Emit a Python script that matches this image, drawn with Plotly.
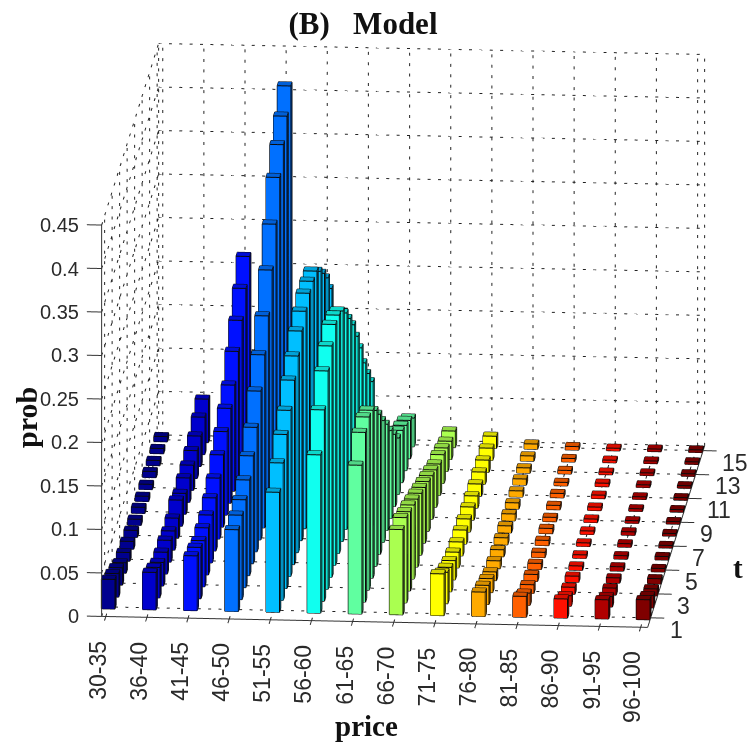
import math
import plotly.graph_objects as go

title_text = "(B)\u00a0\u00a0\u00a0Model"
price_labels = ["30-35","36-40","41-45","46-50","51-55","56-60","61-65","66-70","71-75","76-80","81-85","86-90","91-95","96-100"]
t_values = list(range(1, 16))
t_tick_values = [1, 3, 5, 7, 9, 11, 13, 15]
z_ticks = [0, 0.05, 0.1, 0.15, 0.2, 0.25, 0.3, 0.35, 0.4, 0.45]
z_tick_labels = ["0","0.05","0.1","0.15","0.2","0.25","0.3","0.35","0.4","0.45"]

p_30_35 = [.034,.027,.020,.012,.010,.009,.008,.007,.007,.006,.006,.007,.006,.006,.006]
p_36_40 = [.043,.035,.027,.025,.025,.022,.023,.030,.024,.028,.029,.032,.035,.043,.050]
p_41_45 = [.063,.059,.053,.054,.055,.061,.070,.083,.096,.109,.122,.147,.169,.192,.215]
p_46_50 = [.094,.097,.101,.110,.124,.143,.171,.199,.230,.269,.308,.348,.372,.391,.412]
p_51_55 = [.138,.158,.177,.191,.212,.226,.241,.250,.257,.257,.255,.241,.225,.206,.180]
p_56_60 = [.182,.220,.251,.266,.277,.274,.265,.249,.229,.208,.181,.154,.123,.097,.074]
p_61_65 = [.171,.195,.199,.193,.179,.161,.140,.122,.101,.083,.065,.060,.052,.044,.033]
p_66_70 = [.098,.098,.091,.085,.078,.071,.064,.057,.050,.043,.036,.033,.027,.021,.019]
p_71_75 = [.048,.036,.028,.022,.018,.016,.016,.015,.015,.014,.014,.014,.014,.014,.014]
p_76_80 = [.028,.022,.016,.010,.009,.008,.008,.008,.008,.007,.007,.007,.006,.006,.006]
p_81_85 = [.024,.014,.010,.008,.007,.006,.006,.006,.005,.005,.005,.004,.004,.004,.004]
p_86_90 = [.022,.012,.008,.007,.005,.004,.004,.004,.004,.004,.004,.004,.003,.003,.003]
p_91_95 = [.022,.012,.008,.006,.005,.004,.004,.004,.003,.003,.003,.003,.003,.003,.003]
p_96_100 = [.023,.014,.008,.006,.004,.004,.003,.003,.003,.003,.003,.003,.003,.003,.003]
series = [p_30_35,p_36_40,p_41_45,p_46_50,p_51_55,p_56_60,p_61_65,p_66_70,p_71_75,p_76_80,p_81_85,p_86_90,p_91_95,p_96_100]
colors = [(0,0,143),(0,0,205),(0,16,255),(0,112,255),(0,191,255),(16,255,239),(96,255,160),(170,255,80),
          (255,255,0),(255,170,0),(255,96,0),(255,16,0),(176,0,0),(128,0,0)]

BAR_W = 0.33
X0, X1 = 0.9, 14.17
Y0, Y1 = 0.2, 15.4
XR = [0.5, 14.6]
YR = [-0.2, 15.4]
ZR = [0, 0.46]
ZTOP = 0.45
# approximate on-screen pixels per data unit, used only to space the dots of the dotted grid
PX = (41.35, 12.6, 871.0)
DOT_STEP = 10.4
DOT_LEN = 3.0

def scale(c, f):
    return "rgb(%d,%d,%d)" % tuple(int(v * f) for v in c)

fig = go.Figure()

def add_lines(segs, color, width):
    xs, ys, zs = [], [], []
    for a, b in segs:
        xs += [a[0], b[0], None]; ys += [a[1], b[1], None]; zs += [a[2], b[2], None]
    fig.add_trace(go.Scatter3d(x=xs, y=ys, z=zs, mode="lines", line=dict(color=color, width=width),
                               hoverinfo="skip", showlegend=False))

def dotted(a, b):
    length = math.sqrt(sum(((b[i] - a[i]) * PX[i]) ** 2 for i in range(3)))
    n = int(length // DOT_STEP)
    out = []
    for k in range(n + 1):
        s0 = k * DOT_STEP / length
        s1 = min(1.0, (k * DOT_STEP + DOT_LEN) / length)
        out.append((tuple(a[i] + (b[i] - a[i]) * s0 for i in range(3)),
                    tuple(a[i] + (b[i] - a[i]) * s1 for i in range(3))))
    return out

cats = list(range(1, len(price_labels) + 1))
grid = []
for z in z_ticks:
    grid.append(((X0, Y1, z), (X1, Y1, z)))
    grid.append(((X0, Y0, z), (X0, Y1, z)))
for x in cats:
    grid.append(((x, Y1, 0), (x, Y1, ZTOP)))
    grid.append(((x, Y0, 0), (x, Y1, 0)))
for t in t_tick_values:
    grid.append(((X0, t, 0), (X0, t, ZTOP)))
    grid.append(((X0, t, 0), (X1, t, 0)))
grid.append(((X1, Y1, 0), (X1, Y1, ZTOP)))
grid.append(((X0, Y1, 0), (X0, Y1, ZTOP)))
dots = []
for a, b in grid:
    dots += dotted(a, b)
add_lines(dots, "#222222", 2)

ax = [((X0, Y0, 0), (X0, Y0, ZTOP)), ((X0, Y0, 0), (X1, Y0, 0)), ((X1, Y0, 0), (X1, Y1, 0))]
for z in z_ticks:
    ax.append(((X0 - 0.36, Y0, z), (X0, Y0, z)))
for x in cats:
    ax.append(((x, Y0 - 0.35, 0), (x, Y0, 0)))
for t in t_tick_values:
    ax.append(((X1, t, 0), (X1 + 0.33, t, 0)))
add_lines(ax, "#333333", 2)

edges = []
for ci, vals in enumerate(series):
    vx, vy, vz, fi, fj, fk, fc = [], [], [], [], [], [], []
    front, top, side = scale(colors[ci], 1), scale(colors[ci], 0.85), scale(colors[ci], 0.4)
    xc = ci + 1
    for ti, h in enumerate(vals):
        yc = t_values[ti]
        xa, xb = xc - BAR_W / 2, xc + BAR_W / 2
        ya, yb = yc - BAR_W / 2, yc + BAR_W / 2
        base = len(vx)
        corners = [(xa,ya,0),(xb,ya,0),(xb,yb,0),(xa,yb,0),(xa,ya,h),(xb,ya,h),(xb,yb,h),(xa,yb,h)]
        for c in corners:
            vx.append(c[0]); vy.append(c[1]); vz.append(c[2])
        quads = [((0,1,5,4), front), ((1,2,6,5), side), ((4,5,6,7), top), ((3,0,4,7), side), ((2,3,7,6), side)]
        for q, col in quads:
            for tri in ((q[0], q[1], q[2]), (q[0], q[2], q[3])):
                fi.append(base + tri[0]); fj.append(base + tri[1]); fk.append(base + tri[2]); fc.append(col)
        for a, b in [(0,1),(1,2),(4,5),(5,6),(6,7),(7,4),(0,4),(1,5),(2,6)]:
            edges.append((corners[a], corners[b]))
    fig.add_trace(go.Mesh3d(x=vx, y=vy, z=vz, i=fi, j=fj, k=fk, facecolor=fc, flatshading=True,
                            lighting=dict(ambient=1, diffuse=0, specular=0, roughness=1, fresnel=0),
                            hoverinfo="skip", showlegend=False, showscale=False))
add_lines(edges, "#0a0a0a", 2)

tick_font = dict(family="Liberation Sans, Arial, sans-serif", size=20, color="#2a2a2a")
tick_font_big = dict(family="Liberation Sans, Arial, sans-serif", size=23, color="#2a2a2a")
anns = []
for z, s in zip(z_ticks, z_tick_labels):
    anns.append(dict(x=X0, y=Y0, z=z, text=s, showarrow=False, xanchor="right", yanchor="middle", xshift=-21, font=tick_font))
for x, s in zip(cats, price_labels):
    anns.append(dict(x=x, y=Y0, z=0, text=s, showarrow=False, textangle=-90, xanchor="center", yanchor="top", yshift=-22, xshift=-8, font=tick_font_big))
for t in t_tick_values:
    anns.append(dict(x=X1, y=t, z=0, text=str(t), showarrow=False, xanchor="left", yanchor="middle", xshift=17, yshift=-12, font=tick_font_big))

hidden = dict(visible=False, showgrid=False, zeroline=False, showline=False, showticklabels=False,
              showbackground=False, showspikes=False, title="")
az, el = math.radians(4.54), math.radians(14.67)
R = 6
eye = dict(x=R*math.sin(az)*math.cos(el), y=-R*math.cos(az)*math.cos(el), z=R*math.sin(el))

label_font = dict(family="Liberation Serif, Times New Roman, serif", color="#111111")
fig.update_layout(
    width=751, height=742, autosize=False,
    margin=dict(l=0, r=0, t=0, b=0), paper_bgcolor="white", showlegend=False,
    title=dict(text=f"<b>{title_text}</b>", x=0.4834, xanchor="center", y=0.969, yanchor="middle",
               font=dict(size=31, **label_font)),
    scene=dict(
        domain=dict(x=[0.0733, 1], y=[0.1011, 1]),
        xaxis=dict(hidden, range=XR), yaxis=dict(hidden, range=YR), zaxis=dict(hidden, range=ZR),
        aspectmode="manual", aspectratio=dict(x=1.745, y=2.213, z=1.24),
        camera=dict(eye=eye, up=dict(x=0, y=0, z=1), center=dict(x=0, y=0, z=0),
                    projection=dict(type="orthographic")),
        annotations=anns,
    ),
    annotations=[
        dict(text="<b>price</b>", xref="paper", yref="paper", x=0.4874, y=0.0216, xanchor="center", yanchor="middle",
             showarrow=False, font=dict(size=29, **label_font)),
        dict(text="<b>prob</b>", xref="paper", yref="paper", x=0.0346, y=0.438, xanchor="center", yanchor="middle",
             textangle=-90, showarrow=False, font=dict(size=30, **label_font)),
        dict(text="<b>t</b>", xref="paper", yref="paper", x=0.983, y=0.2345, xanchor="center", yanchor="middle",
             showarrow=False, font=dict(size=29, **label_font)),
    ],
)
fig.write_html("out.html", config=dict(displayModeBar=False),
               post_script="document.body.style.margin='0';document.documentElement.style.overflow='hidden';")
